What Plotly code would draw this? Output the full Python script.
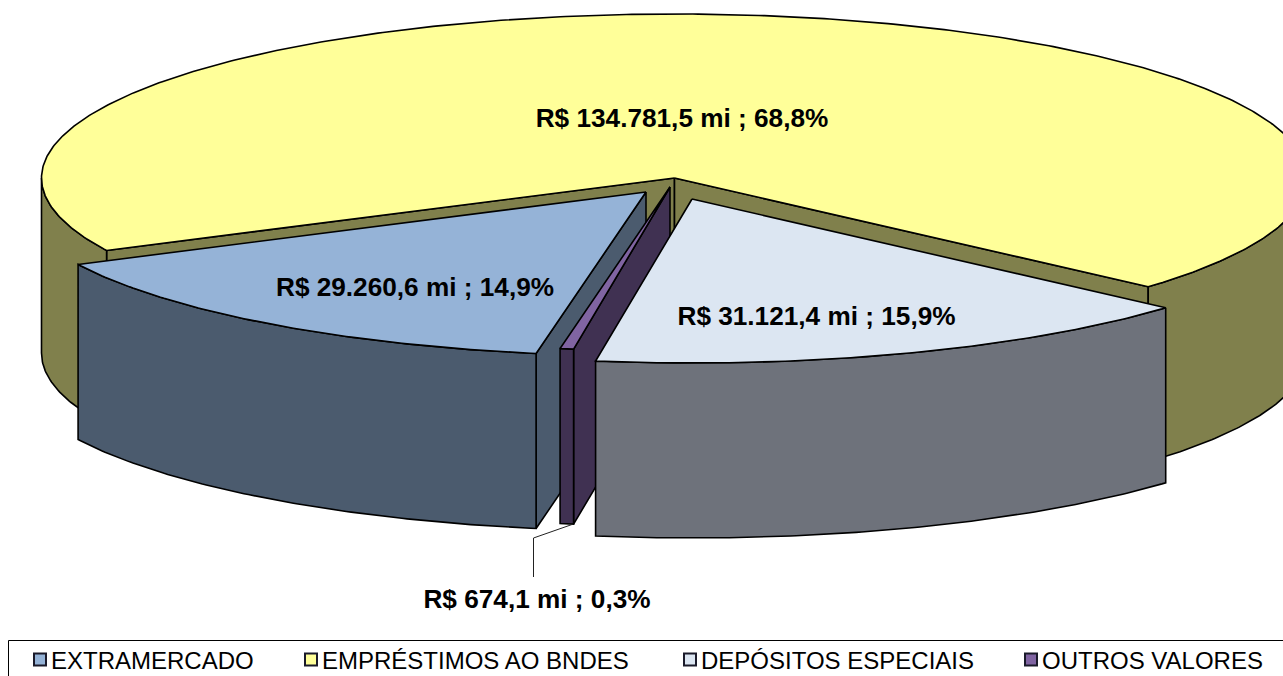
import math
import plotly.graph_objects as go

# ---- data ----
categories = ["EXTRAMERCADO", "EMPRÉSTIMOS AO BNDES", "DEPÓSITOS ESPECIAIS", "OUTROS VALORES"]
values_mi = [29260.6, 134781.5, 31121.4, 674.1]

# ---- styles / geometry ----
top_colors = ["#95B3D7", "#FFFF99", "#DCE6F2", "#8064A2"]
side_colors = ["#4B5B6E", "#80804C", "#6E727B", "#403152"]
apexes = [(646, 192), (674.5, 178), (692, 199), (670, 187)]
label_pos = [(415, 289), (682, 120), (816.5, 318), (537, 601)]
legend_text_left = [52, 323, 702, 1043]
draw_order = [1, 0, 3, 2]
START_DEG, RX, RY, DEPTH = 100.0, 633.0, 164.0, 175.0
W, H = 1283, 676
EDGE = dict(color="#000000", width=1.6)

total = sum(values_mi)
spans = []
a = START_DEG
for v in values_mi:
    d = v / total * 360.0
    spans.append((a, a + d))
    a += d


def arc(c, t0, t1):
    n = max(2, int(abs(t1 - t0) * 2))
    ts = [t0 + (t1 - t0) * i / (n - 1) for i in range(n)]
    return [(c[0] + RX * math.cos(math.radians(t)), c[1] + RY * math.sin(math.radians(t))) for t in ts]


def poly(fig, pts, color):
    pts = list(pts) + [pts[0]]
    fig.add_trace(go.Scatter(x=[p[0] for p in pts], y=[p[1] for p in pts], mode="lines",
                             fill="toself", fillcolor=color, line=EDGE,
                             showlegend=False, hoverinfo="skip"))


def down(pts):
    return [(x, y + DEPTH) for x, y in pts]


fig = go.Figure()
for i in draw_order:
    c, (t0, t1) = apexes[i], spans[i]
    # cut faces: only those turned towards the viewer
    for t, visible in ((t0, math.cos(math.radians(t0)) < 0), (t1, math.cos(math.radians(t1)) > 0)):
        if visible:
            e = arc(c, t, t)[0]
            poly(fig, [c, e, (e[0], e[1] + DEPTH), (c[0], c[1] + DEPTH)], side_colors[i])
    # outer wall, only the part facing the viewer
    for lo, hi in ((0, 180), (360, 540)):
        s, f = max(t0, lo), min(t1, hi)
        if f > s:
            rim = arc(c, s, f)
            poly(fig, rim + down(rim)[::-1], side_colors[i])
    # top
    poly(fig, [c] + arc(c, t0, t1), top_colors[i])

# leader line for the smallest slice
fig.add_trace(go.Scatter(x=[533.5, 533.5, 572], y=[577, 538, 524.5], mode="lines",
                         line=dict(color="#222222", width=1), showlegend=False, hoverinfo="skip"))


def fmt(v):
    return f"{v:,.1f}".replace(",", "X").replace(".", ",").replace("X", ".")


labels = [f"R$ {fmt(v)} mi ; {fmt(v / total * 100)}%" for v in values_mi]
fig.add_trace(go.Scatter(x=[p[0] for p in label_pos], y=[p[1] for p in label_pos], text=labels,
                         mode="text", textposition="middle center",
                         textfont=dict(family="Liberation Sans", size=26.2, color="#000000"),
                         texttemplate="<b>%{text}</b>", showlegend=False, hoverinfo="skip"))

# legend: one box per entry so the entries keep their spacing
legends = {}
for i, name in enumerate(categories):
    key = "legend" if i == 0 else f"legend{i + 1}"
    fig.add_trace(go.Scatter(x=[None], y=[None], mode="markers", name=name, legend=key, showlegend=True,
                             marker=dict(symbol="square", size=12, color=top_colors[i],
                                         line=dict(color="#1a1a2a", width=2))))
    legends[key] = dict(xref="container", yref="container",
                        x=(legend_text_left[i] - 41) / W, xanchor="left", y=1 - 660 / H, yanchor="middle",
                        bgcolor="rgba(0,0,0,0)", borderwidth=0,
                        font=dict(family="Liberation Sans", size=24, color="#000000"))

fig.update_layout(
    width=W, height=H, margin=dict(l=0, r=0, t=0, b=0, autoexpand=False),
    paper_bgcolor="#FFFFFF", plot_bgcolor="#FFFFFF",
    xaxis=dict(range=[0, W], visible=False, fixedrange=True),
    yaxis=dict(range=[H, 0], visible=False, fixedrange=True),
    shapes=[dict(type="rect", xref="paper", yref="paper",
                 x0=8.5 / W, x1=1.01, y0=-0.05, y1=1 - 640.5 / H,
                 line=dict(color="#000000", width=1), fillcolor="rgba(0,0,0,0)")],
    **legends,
)
fig.write_html("out.html", config={"displayModeBar": False},
               post_script="document.body.style.margin='0';document.documentElement.style.overflow='hidden';"
                           "document.querySelectorAll('g.legendsymbols').forEach(function(g){g.setAttribute('transform','translate(9,0)');});")
